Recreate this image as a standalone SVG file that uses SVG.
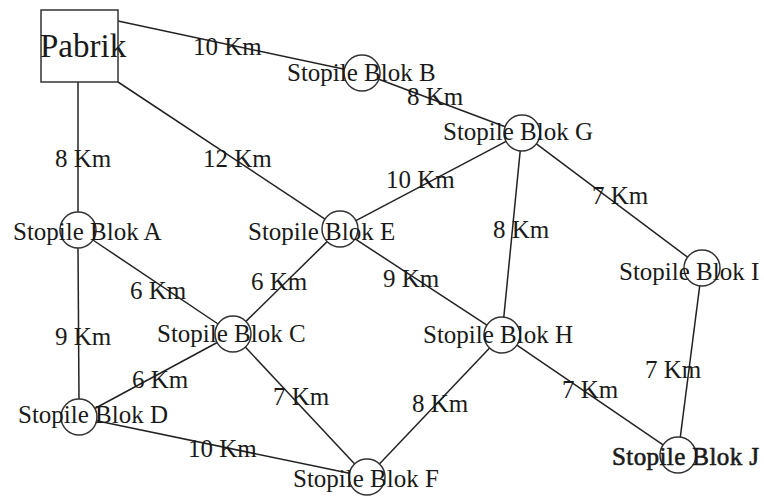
<svg xmlns="http://www.w3.org/2000/svg" width="764" height="498" viewBox="0 0 764 498">
<style>
.e{stroke:#222;stroke-width:1.5;fill:none}
.n{stroke:#333;stroke-width:1.5;fill:none}
text{font-family:"Liberation Serif","Times New Roman",serif;font-size:25px;fill:#1a1a1a}
</style>
<rect width="764" height="498" fill="#fff"/>
<g id="connectors">
<line class="e" x1="118" y1="21" x2="344.4" y2="69.3"/>
<line class="e" x1="78" y1="82" x2="78" y2="212"/>
<line class="e" x1="118" y1="82" x2="325" y2="219.1"/>
<line class="e" x1="378.8" y1="79.3" x2="505.2" y2="126.7"/>
<line class="e" x1="506.1" y1="141.4" x2="355.9" y2="220.6"/>
<line class="e" x1="520.2" y1="150.9" x2="503.8" y2="317.1"/>
<line class="e" x1="536.4" y1="143.8" x2="687.6" y2="257.2"/>
<line class="e" x1="327.1" y1="241.6" x2="245.9" y2="321.4"/>
<line class="e" x1="355.1" y1="238.9" x2="486.9" y2="325.1"/>
<line class="e" x1="92.9" y1="240" x2="218.1" y2="324"/>
<line class="e" x1="78" y1="248" x2="79" y2="399"/>
<line class="e" x1="217.2" y1="342.5" x2="94.8" y2="408.5"/>
<line class="e" x1="245.3" y1="347.1" x2="354.7" y2="463.9"/>
<line class="e" x1="96.6" y1="420.7" x2="349.4" y2="473.3"/>
<line class="e" x1="489.6" y1="348" x2="379.4" y2="464"/>
<line class="e" x1="516.9" y1="345.1" x2="663.1" y2="444.9"/>
<line class="e" x1="699.7" y1="285.9" x2="680.3" y2="437.1"/>
<text x="193" y="55">10 Km</text>
<text x="407" y="105">8 Km</text>
<text x="55" y="167">8 Km</text>
<text x="203" y="167">12 Km</text>
<text x="386" y="188">10 Km</text>
<text x="493" y="238">8 Km</text>
<text x="592" y="204">7 Km</text>
<text x="130" y="299">6 Km</text>
<text x="251" y="290">6 Km</text>
<text x="383" y="287">9 Km</text>
<text x="55" y="345">9 Km</text>
<text x="132" y="388">6 Km</text>
<text x="273" y="405">7 Km</text>
<text x="188" y="457">10 Km</text>
<text x="412" y="412">8 Km</text>
<text x="562" y="398">7 Km</text>
<text x="645" y="378">7 Km</text>
</g>
<g id="pabrik"><rect class="n" x="41" y="10" width="77" height="72"/><text x="40" y="57" style="font-size:33px">Pabrik</text></g>
<g id="blokA"><circle class="n" cx="78" cy="230" r="18"/><text x="13" y="240">Stopile Blok A</text></g>
<g id="blokB"><circle class="n" cx="362" cy="73" r="18"/><text x="287" y="81">Stopile Blok B</text></g>
<g id="blokC"><circle class="n" cx="233" cy="334" r="18"/><text x="157" y="342">Stopile Blok C</text></g>
<g id="blokD"><circle class="n" cx="79" cy="417" r="18"/><text x="18" y="423">Stopile Blok D</text></g>
<g id="blokE"><circle class="n" cx="340" cy="229" r="18"/><text x="248" y="240">Stopile Blok E</text></g>
<g id="blokF"><circle class="n" cx="367" cy="477" r="18"/><text x="293" y="487">Stopile Blok F</text></g>
<g id="blokG"><circle class="n" cx="522" cy="133" r="18"/><text x="443" y="140">Stopile Blok G</text></g>
<g id="blokH"><circle class="n" cx="502" cy="335" r="18"/><text x="423" y="343">Stopile Blok H</text></g>
<g id="blokI"><circle class="n" cx="702" cy="268" r="18"/><text x="619" y="280">Stopile Blok I</text></g>
<g id="blokJ"><circle class="n" cx="678" cy="455" r="18"/><text x="612" y="465" textLength="147" stroke="#1a1a1a" stroke-width="0.6">Stopile Blok J</text></g>
</svg>
